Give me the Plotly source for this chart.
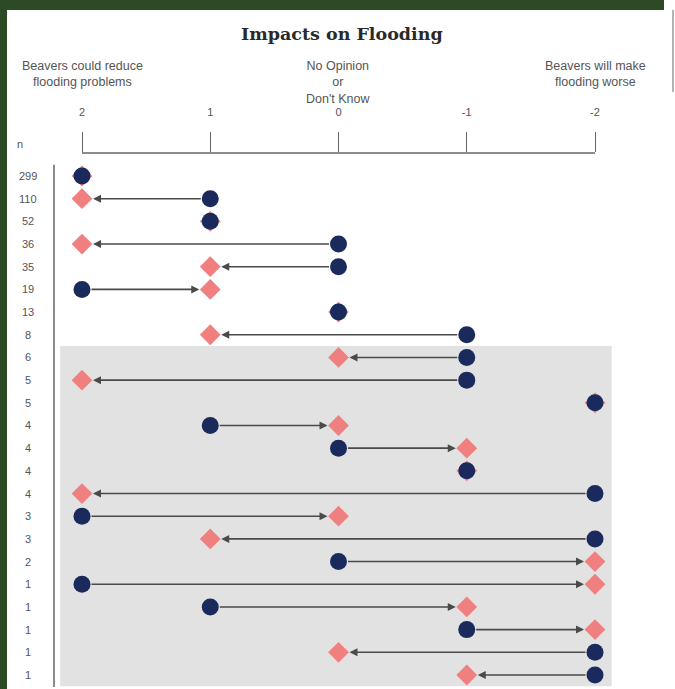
import plotly.graph_objects as go

# survey responses: before (circle) -> after (diamond), one row per group
n_labels = [299, 110, 52, 36, 35, 19, 13, 8, 6, 5, 5, 4, 4, 4, 4, 3, 3, 2, 1, 1, 1, 1, 1]
start_vals = [2, 1, 1, 0, 0, 2, 0, -1, -1, -1, -2, 1, 0, -1, -2, 2, -2, 0, 2, 1, -1, -2, -2]
end_vals = [2, 2, 1, 2, 1, 1, 0, 1, 0, 2, -2, 0, -1, -1, 2, 0, 1, -2, -2, -1, -2, 0, -1]
scale_vals = [2, 1, 0, -1, -2]
scale_text = ["2", "1", "0", "-1", "-2"]
header_text = ["Beavers could reduce<br>flooding problems", "No Opinion<br>or<br>Don't Know",
               "Beavers will make<br>flooding worse"]
header_pos = [2, 0, -2]
shade_from_n = 6  # rows with n <= 6 are shaded

W, H = 675, 689
L, R, T, B = 54, 11, 153, 2
PW, PH = W - L - R, H - T - B


def px_x(px):
    return (px - L) / PW


def px_y(py):
    return (H - B - py) / PH


rows = list(range(len(n_labels)))
NAVY = "#1b2a5c"
PINK = "#f08080"
GREEN = "#2c4a23"
TXT = "#555555"

fig = go.Figure()
fig.add_trace(go.Scatter(x=end_vals, y=rows, mode="markers",
                         marker=dict(symbol="diamond", size=16, color=PINK),
                         cliponaxis=False, hoverinfo="skip"))
fig.add_trace(go.Scatter(x=start_vals, y=rows, mode="markers",
                         marker=dict(symbol="circle", size=17, color=NAVY),
                         cliponaxis=False, hoverinfo="skip"))

annos = []
for i, (s, e) in enumerate(zip(start_vals, end_vals)):
    if s != e:
        annos.append(dict(x=e, y=i, ax=s, ay=i, xref="x", yref="y", axref="x", ayref="y",
                          text="", showarrow=True, arrowhead=2, arrowsize=1, arrowwidth=1.6,
                          arrowcolor="#4a4a4a", standoff=11, startstandoff=8))
    annos.append(dict(x=px_x(28), y=i, xref="paper", yref="y", text=str(n_labels[i]),
                      showarrow=False, xanchor="center", yanchor="middle",
                      font=dict(family="Liberation Sans", size=11, color=TXT)))

for txt, pos in zip(header_text, header_pos):
    annos.append(dict(x=pos, y=px_y(57), xref="x", yref="paper", text=txt, showarrow=False,
                      xanchor="center", yanchor="top", align="center",
                      font=dict(family="Liberation Sans", size=12.5, color=TXT)))

annos.append(dict(x=px_x(20), y=px_y(144), xref="paper", yref="paper", text="n",
                  showarrow=False, xanchor="center", yanchor="middle",
                  font=dict(family="Liberation Sans", size=11, color=TXT)))
annos.append(dict(x=px_x(342), y=px_y(34), xref="paper", yref="paper",
                  text="Impacts on Flooding", showarrow=False, xanchor="center", yanchor="middle",
                  font=dict(family="DejaVu Serif", size=17.5, color="#2a2a2a", weight=700)))

shade_start = next(i for i, n in enumerate(n_labels) if n <= shade_from_n)
shapes = [
    # shaded block
    dict(type="rect", xref="x", yref="y", x0=2.17, x1=-2.13, y0=shade_start - 0.5,
         y1=len(rows) - 0.5, fillcolor="#e2e2e2", line=dict(width=0), layer="below"),
    # top scale line
    dict(type="line", xref="x", yref="paper", x0=scale_vals[0], x1=scale_vals[-1], y0=1, y1=1,
         line=dict(color="#666666", width=1.5)),
    # left row rule
    dict(type="line", xref="paper", yref="y", x0=0, x1=0, y0=-0.5, y1=len(rows) - 0.45,
         line=dict(color="#8a8a8a", width=2)),
    # green frame
    dict(type="rect", xref="paper", yref="paper", x0=px_x(0), x1=px_x(7), y0=px_y(H), y1=px_y(0),
         fillcolor=GREEN, line=dict(width=0)),
    dict(type="rect", xref="paper", yref="paper", x0=px_x(0), x1=px_x(664), y0=px_y(10), y1=px_y(0),
         fillcolor=GREEN, line=dict(width=0)),
    dict(type="line", xref="paper", yref="paper", x0=px_x(673), x1=px_x(673), y0=px_y(10), y1=px_y(92),
         line=dict(color="#9a9a9a", width=1.5)),
]

fig.update_layout(
    width=W, height=H, margin=dict(l=L, r=R, t=T, b=B),
    paper_bgcolor="white", plot_bgcolor="white", showlegend=False,
    annotations=annos, shapes=shapes,
    xaxis=dict(range=[2 + 28 / 128.25, -2 - 69 / 128.25], side="top", tickvals=scale_vals,
               ticktext=scale_text, ticks="outside", ticklen=20, tickwidth=1.2, tickcolor="#666666",
               tickfont=dict(family="Liberation Sans", size=11, color=TXT), ticklabelstandoff=12,
               showgrid=False, zeroline=False, showline=False),
    yaxis=dict(range=[22.53, -1.014], visible=False),
)

# drop the default page margin so the figure sits at the window corner
fig.write_html("out.html", config={"displayModeBar": False},
               post_script="document.body.style.margin='0';")
